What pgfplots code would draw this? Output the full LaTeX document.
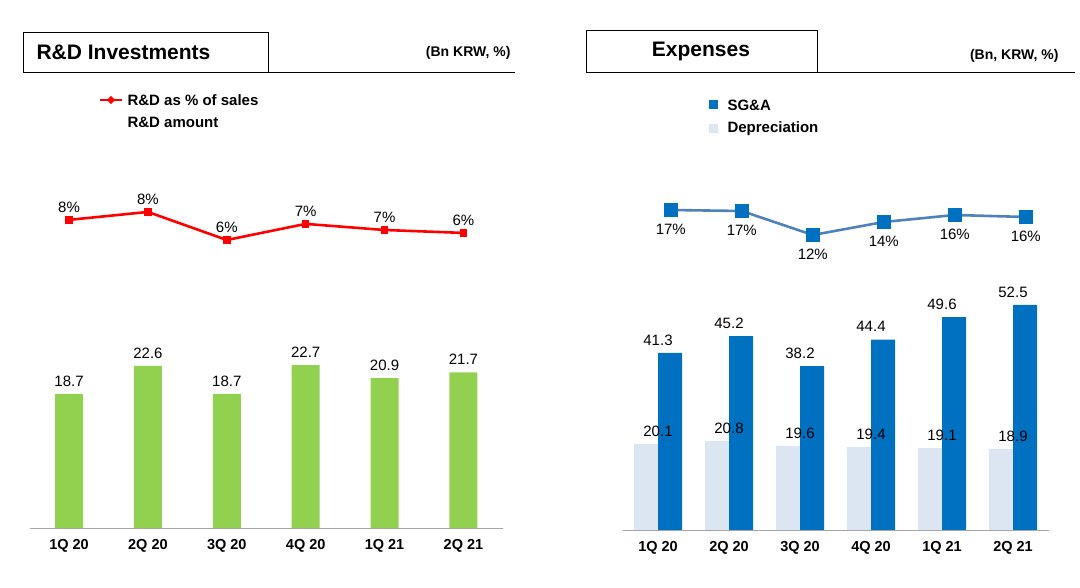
\documentclass[border=0pt]{standalone}
\usepackage{pgfplots}
\pgfplotsset{compat=1.18}
\usepackage{fontspec}
\setmainfont{Liberation Sans}
\definecolor{rdgreen}{HTML}{92D050}
\definecolor{sgblue}{HTML}{0070C0}
\definecolor{deplight}{HTML}{DCE6F2}
\definecolor{lineblue}{HTML}{4F81BD}
\pgfplotsset{
  base/.style={scale only axis, clip=false, xmin=-0.5, xmax=5.5, ymin=0,
    /pgf/number format/assume math mode=true},
  barax/.style={base, axis x line*=bottom, axis y line=none, x axis line style={gray!70,-},
    xtick={0,...,5}, xticklabels={1Q 20,2Q 20,3Q 20,4Q 20,1Q 21,2Q 21},
    major tick length=0pt, xticklabel style={font=\bfseries\fontsize{14.5}{16}\selectfont, yshift=-8pt},
    nodes near coords, every node near coord/.style={font=\fontsize{15}{17}\selectfont, black, yshift=4pt},
    /pgf/number format/.cd, fixed, fixed zerofill, precision=1},
}
\begin{document}
\begin{tikzpicture}[x=1pt,y=1pt]
\path (0,0) rectangle (1080,587);
% title boxes
\draw[line width=0.8pt] (23,555) rectangle (268,515);
\draw[line width=0.6pt] (268,515) -- (515,515);
\node[anchor=west,font=\bfseries\fontsize{21}{24}\selectfont] at (33,535) {R\&D Investments};
\node[anchor=east,font=\bfseries\fontsize{14}{16}\selectfont] at (514,534) {(Bn KRW, \%)};
\draw[line width=0.8pt] (586,557) rectangle (817,515);
\draw[line width=0.6pt] (817,515) -- (1075,515);
\node[anchor=center,font=\bfseries\fontsize{21}{24}\selectfont] at (701,536) {Expenses};
\node[anchor=east,font=\bfseries\fontsize{14}{16}\selectfont] at (1062,531) {(Bn, KRW, \%)};
% legends
\draw[red,line width=2.2pt] (100,487) -- (122,487);
\node[fill=red,rotate=45,minimum size=6pt,inner sep=0pt] at (111,487) {};
\node[anchor=west,font=\bfseries\fontsize{15}{17}\selectfont] at (124,487) {R\&D as \% of sales};
\node[anchor=west,font=\bfseries\fontsize{15}{17}\selectfont] at (124,465) {R\&D amount};
\node[fill=sgblue,minimum size=9pt,inner sep=0pt] at (713,482) {};
\node[anchor=west,font=\bfseries\fontsize{15}{17}\selectfont] at (724,482) {SG\&A};
\node[fill=deplight,minimum size=9pt,inner sep=0pt] at (713,458) {};
\node[anchor=west,font=\bfseries\fontsize{15}{17}\selectfont] at (724,458) {Depreciation};
% left bars
\begin{axis}[barax, at={(29.6pt,59pt)}, anchor=south west, width=473.3pt, height=215.1pt, ymax=30]
\addplot[ybar, bar width=28pt, fill=rdgreen, draw=none] coordinates {(0,18.7)(1,22.6)(2,18.7)(3,22.7)(4,20.9)(5,21.7)};
\end{axis}
% left line
\begin{axis}[base, hide axis, at={(29.6pt,334.8pt)}, anchor=south west, width=473.3pt, height=48.8pt, ymin=5, ymax=9,
  nodes near coords, point meta=explicit symbolic, every node near coord/.style={font=\fontsize{15}{17}\selectfont, black, yshift=3pt}]
\addplot[red, line width=2.6pt, mark=square*, mark size=2.4pt] coordinates {(0,7.65)[8\%] (1,8.3)[8\%] (2,6.0)[6\%] (3,7.32)[7\%] (4,6.82)[7\%] (5,6.58)[6\%]};
\end{axis}
% right bars
\begin{axis}[barax, at={(622.5pt,57pt)}, anchor=south west, width=426pt, height=257.4pt, ymax=60]
\addplot[ybar, bar width=24pt, bar shift=-12pt, fill=deplight, draw=none] coordinates {(0,20.1)(1,20.8)(2,19.6)(3,19.4)(4,19.1)(5,18.9)};
\addplot[ybar, bar width=24pt, bar shift=12pt, fill=sgblue, draw=none] coordinates {(0,41.3)(1,45.2)(2,38.2)(3,44.4)(4,49.6)(5,52.5)};
\end{axis}
% right line
\begin{axis}[base, hide axis, at={(622.5pt,342pt)}, anchor=south west, width=426pt, height=50pt, ymin=10, ymax=20,
  nodes near coords, point meta=explicit symbolic, every node near coord/.style={font=\fontsize{15}{17}\selectfont, black, anchor=north, yshift=-9pt}]
\addplot[lineblue, line width=2.6pt, mark=square*, mark options={fill=sgblue, draw=sgblue, rounded corners=2pt}, mark size=5.5pt] coordinates {(0.18,17)[17\%] (1.18,16.8)[17\%] (2.18,12)[12\%] (3.18,14.6)[14\%] (4.18,16)[16\%] (5.18,15.6)[16\%]};
\end{axis}
\end{tikzpicture}
\end{document}
